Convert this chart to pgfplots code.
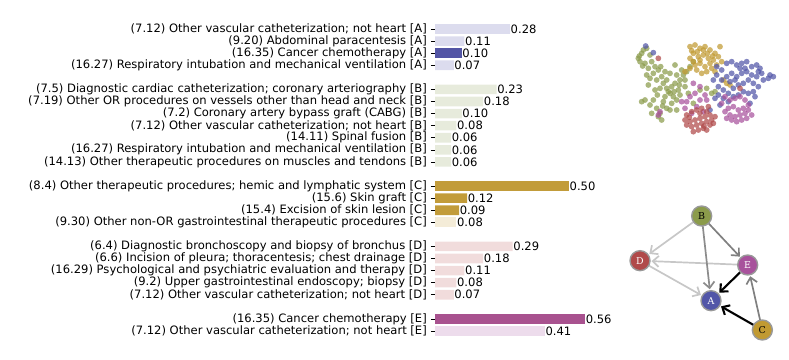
\documentclass[border=0pt]{standalone}
\usepackage{fontspec}
\setmainfont{DejaVu Sans}
\newfontfamily\nodefont{DejaVu Serif}
\usepackage{pgfplots}
\pgfplotsset{compat=1.18}
\usetikzlibrary{arrows.meta}
\definecolor{Alight}{HTML}{DCDCEE}
\definecolor{Adark}{HTML}{5355A5}
\definecolor{Blight}{HTML}{E7EBDC}
\definecolor{Cdark}{HTML}{C29C3A}
\definecolor{Clight}{HTML}{F4ECD8}
\definecolor{Dlight}{HTML}{F1DCDC}
\definecolor{Edark}{HTML}{A8528F}
\definecolor{Elight}{HTML}{EDDCEC}
\definecolor{cG}{HTML}{8B9B4B}
\definecolor{cR}{HTML}{B04A4A}
\definecolor{cM}{HTML}{A8529C}
\definecolor{cB}{HTML}{5256A8}
\definecolor{cY}{HTML}{C19A32}
\begin{document}
\begin{tikzpicture}
\useasboundingbox (0,0) rectangle (789bp,360bp);
\begin{axis}[
 at={(435bp,0bp)}, anchor=south west, scale only axis,
 width=160.8bp, height=360bp,
 xmin=0, xmax=0.6, ymin=-2.4, ymax=27.4, y dir=reverse,
 xbar, bar shift=0pt, bar width=9.6bp,
 axis line style={draw=none}, xtick=\empty,
 ytick={0,1,2,3,5,6,7,8,9,10,11,13,14,15,16,18,19,20,21,22,24,25},
 yticklabels={
 {(7.12) Other vascular catheterization; not heart [A]},
 {(9.20) Abdominal paracentesis [A]},
 {(16.35) Cancer chemotherapy [A]},
 {(16.27) Respiratory intubation and mechanical ventilation [A]},
 {(7.5) Diagnostic cardiac catheterization; coronary arteriography [B]},
 {(7.19) Other OR procedures on vessels other than head and neck [B]},
 {(7.2) Coronary artery bypass graft (CABG) [B]},
 {(7.12) Other vascular catheterization; not heart [B]},
 {(14.11) Spinal fusion [B]},
 {(16.27) Respiratory intubation and mechanical ventilation [B]},
 {(14.13) Other therapeutic procedures on muscles and tendons [B]},
 {(8.4) Other therapeutic procedures; hemic and lymphatic system [C]},
 {(15.6) Skin graft [C]},
 {(15.4) Excision of skin lesion [C]},
 {(9.30) Other non-OR gastrointestinal therapeutic procedures [C]},
 {(6.4) Diagnostic bronchoscopy and biopsy of bronchus [D]},
 {(6.6) Incision of pleura; thoracentesis; chest drainage [D]},
 {(16.29) Psychological and psychiatric evaluation and therapy [D]},
 {(9.2) Upper gastrointestinal endoscopy; biopsy [D]},
 {(7.12) Other vascular catheterization; not heart [D]},
 {(16.35) Cancer chemotherapy [E]},
 {(7.12) Other vascular catheterization; not heart [E]}},
 ytick pos=left, tick align=outside, major tick length=4bp,
 tick style={black, line width=0.6bp},
 yticklabel style={font=\fontsize{11.6}{12}\selectfont, inner sep=2bp, xshift=-2bp},
 nodes near coords,
 every node near coord/.append style={anchor=west, inner sep=0.5bp, font=\fontsize{11.6}{12}\selectfont, black},
 /pgf/number format/fixed, /pgf/number format/fixed zerofill,
 /pgf/number format/precision=2, /pgf/number format/assume math mode=true,
 point meta=x, clip=false,
]
\addplot[fill=Alight, draw=none] coordinates {(0.28,0)(0.11,1)(0.07,3)};
\addplot[fill=Adark, draw=none] coordinates {(0.10,2)};
\addplot[fill=Blight, draw=none] coordinates {(0.23,5)(0.18,6)(0.10,7)(0.08,8)(0.06,9)(0.06,10)(0.06,11)};
\addplot[fill=Cdark, draw=none] coordinates {(0.50,13)(0.12,14)(0.09,15)};
\addplot[fill=Clight, draw=none] coordinates {(0.08,16)};
\addplot[fill=Dlight, draw=none] coordinates {(0.29,18)(0.18,19)(0.11,20)(0.08,21)(0.07,22)};
\addplot[fill=Edark, draw=none] coordinates {(0.56,24)};
\addplot[fill=Elight, draw=none] coordinates {(0.41,25)};
\end{axis}

% scatter cloud
\begin{axis}[at={(600bp,220bp)}, anchor=south west, scale only axis,
 width=189bp, height=110bp, xmin=0, xmax=567, ymin=0, ymax=330, y dir=reverse,
 hide axis, clip=false]
\pgfplotsset{cl/.style={only marks, mark=*, mark size=2.9bp, mark options={draw opacity=0, fill=#1, fill opacity=0.72}}}
\addplot[cl=cG] coordinates {
(115,85)(125,70)(140,55)(150,75)(135,100)(120,95)(155,95)(165,110)(145,115)(160,130)(175,120)(185,140)(170,150)(150,145)(190,160)(200,175)(180,175)(210,190)(195,200)(220,200)(230,210)(215,220)(205,185)(235,180)(225,160)(240,150)(250,135)(260,125)(245,120)(230,135)(255,170)(240,195)(160,210)(150,225)(135,210)(170,235)(180,250)(185,270)(175,260)(155,250)(165,180)(145,165)(200,150)(210,130)(225,105)(270,110)(280,95)(300,180)(320,175)(335,190)(345,185)(125,215)(190,215)(200,235)(215,170)(255,150)(265,190)(280,220)(195,125)(140,135)(130,60)(210,240)(230,240)(118,78)(128,108)(172,195)(188,228)(222,185)(238,165)(182,110)};
\addplot[cl=cY] coordinates {
(270,50)(285,45)(300,55)(315,50)(330,60)(345,70)(360,50)(280,70)(295,80)(310,75)(325,85)(280,95)(300,100)(315,110)(330,100)(340,90)(290,120)(305,130)(320,125)(335,115)(270,85)(350,105)(365,95)(270,115)(285,105)(355,80)(300,90)(310,60)(345,125)(255,125)(380,160)(370,150)(390,165)(275,62)(292,65)(322,70)(338,78)};
\addplot[cl=cB] coordinates {
(350,110)(365,120)(380,100)(395,95)(410,105)(425,100)(440,95)(455,110)(470,105)(480,115)(485,130)(470,140)(455,135)(440,125)(425,130)(410,140)(395,130)(380,140)(365,150)(355,170)(370,180)(385,190)(400,175)(415,165)(430,160)(445,150)(460,160)(475,170)(460,185)(445,190)(430,185)(415,195)(400,200)(385,215)(370,205)(355,195)(345,205)(360,225)(450,220)(465,200)(510,135)(520,140)(505,145)(490,150)(350,135)(340,150)(420,115)(435,115)(475,125)(390,155)(405,150)(160,68)(137,48)(330,240)};
\addplot[cl=cM] coordinates {
(375,200)(390,210)(405,205)(420,200)(435,210)(445,225)(430,235)(415,240)(400,230)(385,235)(375,245)(390,255)(405,260)(420,255)(435,250)(445,240)(410,275)(395,270)(380,265)(425,270)(440,265)(455,255)(365,220)(280,160)(300,170)(315,195)(270,200)(260,215)(290,230)(310,245)(275,250)(320,210)(245,215)(255,235)(300,210)(180,245)(175,255)(285,190)};
\addplot[cl=cR] coordinates {
(260,255)(275,245)(290,240)(305,235)(320,245)(330,255)(315,260)(300,265)(285,270)(270,275)(260,285)(275,290)(290,285)(305,280)(320,275)(335,270)(345,260)(330,285)(310,295)(295,300)(280,305)(320,300)(340,280)(300,250)(325,230)(255,270)(175,85)(420,175)(268,262)(312,288)};
\end{axis}

% graph
\begin{axis}[at={(600bp,0bp)}, anchor=south west, scale only axis,
 width=189bp, height=170bp, xmin=0, xmax=567, ymin=0, ymax=510, y dir=reverse,
 hide axis, clip=false]
\pgfplotsset{edge/.style={-{Straight Barb[length=6bp,width=11bp]}, line width=1.7bp, shorten >=11.5bp, shorten <=10bp}}
\addplot[edge, color=black!22] coordinates {(305,78)(120,212)};
\addplot[edge, color=black!22] coordinates {(443,225)(120,212)};
\addplot[edge, color=black!22] coordinates {(120,212)(333,332)};
\addplot[edge, color=black!45] coordinates {(305,78)(333,332)};
\addplot[edge, color=black!50] coordinates {(305,78)(443,225)};
\addplot[edge, color=black!50] coordinates {(487,420)(443,225)};
\addplot[edge, color=black, line width=2.1bp] coordinates {(443,225)(333,332)};
\addplot[edge, color=black, line width=2.1bp] coordinates {(487,420)(333,332)};
\pgfplotsset{gnode/.style={only marks, mark=*, mark size=10bp, mark options={draw=black!40, line width=1.4bp, fill=#1},
 point meta=explicit symbolic, nodes near coords, nodes near coords align=center,
 every node near coord/.append style={font=\nodefont\fontsize{9.5}{10}\selectfont, anchor=center}}}
\addplot[gnode=cG, every node near coord/.append style={black}] coordinates {(305,78)[B]};
\addplot[gnode=cR, every node near coord/.append style={white}] coordinates {(120,212)[D]};
\addplot[gnode=cM, every node near coord/.append style={white}] coordinates {(443,225)[E]};
\addplot[gnode=cB, every node near coord/.append style={white}] coordinates {(333,332)[A]};
\addplot[gnode=cY, every node near coord/.append style={black}] coordinates {(487,420)[C]};
\end{axis}
\end{tikzpicture}
\end{document}
